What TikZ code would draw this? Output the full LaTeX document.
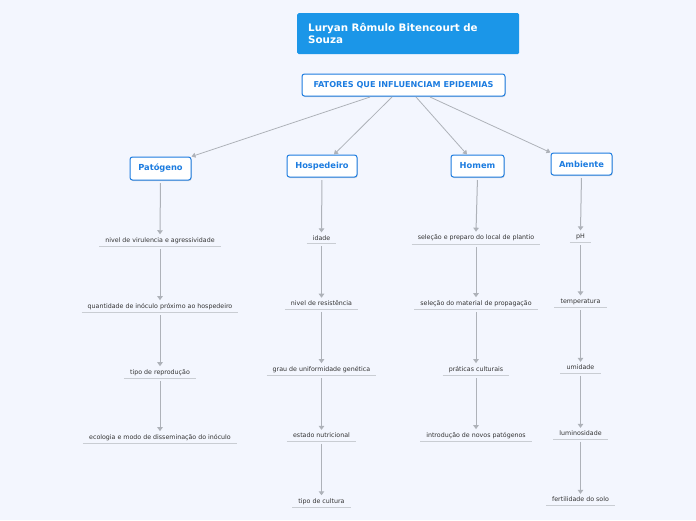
\documentclass[tikz,border=0pt]{standalone}
\usepackage{fontspec}
\setmainfont{DejaVu Sans}
\usetikzlibrary{arrows.meta,shadows}
\definecolor{bg}{HTML}{F3F6FE}
\definecolor{titleblue}{HTML}{1B96E8}
\definecolor{topicblue}{HTML}{1C7CE0}
\definecolor{linegray}{HTML}{AEB2B9}
\definecolor{ulgray}{HTML}{C9CDD3}
\definecolor{leaftext}{HTML}{333333}
\tikzset{
  titlebox/.style={fill=titleblue, rounded corners=1.5pt, text=white, font=\fontsize{10.3}{12.5}\selectfont\bfseries, align=left, anchor=north west, minimum width=222pt, minimum height=41pt, inner xsep=11pt, text width=200pt},
  topicbox/.style={draw=topicblue, line width=1pt, fill=white, rounded corners=2.5pt, text=topicblue, inner sep=0pt, drop shadow={shadow xshift=0.6pt, shadow yshift=-1pt, opacity=0.25, fill=black!60}},
  maintopic/.style={topicbox, font=\fontsize{8.1}{9}\selectfont\bfseries},
  subtopic/.style={topicbox, font=\fontsize{8.3}{9}\selectfont\bfseries},
  leafbox/.style={text=leaftext, font=\fontsize{6.3}{7}\selectfont, inner xsep=6pt, inner ysep=3pt,
    append after command={\pgfextra{\draw[ulgray, line width=1.2pt] (\tikzlastnode.south west) -- (\tikzlastnode.south east);}}},
  conn/.style={linegray, line width=0.8pt, -{Triangle[width=5pt,length=4pt]}},
  vconn/.style={linegray, line width=1pt, -{Triangle[width=5.5pt,length=4pt]}, shorten <=2.5pt}
}
\begin{document}
\begin{tikzpicture}[x=1pt,y=-1pt]
\fill[bg] (0,0) rectangle (696,520);
\useasboundingbox (0,0) rectangle (696,520);

\node[titlebox] (title) at (297,13) {Luryan Rômulo Bitencourt de\\Souza};

\node[maintopic, minimum width=203pt, minimum height=22pt] (main) at (403.5,85) {FATORES QUE INFLUENCIAM EPIDEMIAS};

\node[subtopic, minimum width=61pt, minimum height=23pt] (pat) at (160.5,168.5) {Patógeno};
\node[subtopic, minimum width=70pt, minimum height=22pt] (hos) at (322,166) {Hospedeiro};
\node[subtopic, minimum width=53pt, minimum height=22pt] (hom) at (477.5,166) {Homem};
\node[subtopic, minimum width=61pt, minimum height=22pt] (amb) at (581.5,164) {Ambiente};

\coordinate (m1) at (370,97);
\coordinate (m2) at (392,97);
\coordinate (m3) at (416,97);
\coordinate (m4) at (430,97);
\draw[conn] (m1) -- (pat.north east);
\draw[conn] (m2) -- (hos.north -| 334,0);
\draw[conn] (m3) -- (hom.north -| 467,0);
\draw[conn] (m4) -- (amb.north west);

% Patogeno column
\node[leafbox] (p1) at (160,240.5) {nivel de virulencia e agressividade};
\node[leafbox] (p2) at (160,306.5) {quantidade de inóculo próximo ao hospedeiro};
\node[leafbox] (p3) at (160,372.5) {tipo de reprodução};
\node[leafbox] (p4) at (160,437.5) {ecologia e modo de disseminação do inóculo};
\draw[vconn] (pat.south) -- (p1.north);
\draw[vconn] (p1.south) -- (p2.north);
\draw[vconn] (p2.south) -- (p3.north);
\draw[vconn] (p3.south) -- (p4.north);

% Hospedeiro column
\node[leafbox] (h1) at (321.5,238) {idade};
\node[leafbox] (h2) at (321.5,303.5) {nivel de resistência};
\node[leafbox] (h3) at (321.5,369.5) {grau de uniformidade genética};
\node[leafbox] (h4) at (321.5,435.5) {estado nutricional};
\node[leafbox] (h5) at (321.5,501.5) {tipo de cultura};
\draw[vconn] (hos.south) -- (h1.north);
\draw[vconn] (h1.south) -- (h2.north);
\draw[vconn] (h2.south) -- (h3.north);
\draw[vconn] (h3.south) -- (h4.north);
\draw[vconn] (h4.south) -- (h5.north);

% Homem column
\node[leafbox] (o1) at (476,238) {seleção e preparo do local de plantio};
\node[leafbox] (o2) at (476,303.5) {seleção do material de propagação};
\node[leafbox] (o3) at (476,369.5) {práticas culturais};
\node[leafbox] (o4) at (476,435.5) {introdução de novos patógenos};
\draw[vconn] (hom.south) -- (o1.north);
\draw[vconn] (o1.south) -- (o2.north);
\draw[vconn] (o2.south) -- (o3.north);
\draw[vconn] (o3.south) -- (o4.north);

% Ambiente column
\node[leafbox] (a1) at (580.5,236.5) {pH};
\node[leafbox] (a2) at (580.5,301.5) {temperatura};
\node[leafbox] (a3) at (580.5,367.5) {umidade};
\node[leafbox] (a4) at (580.5,433.5) {luminosidade};
\node[leafbox] (a5) at (580.5,499.5) {fertilidade do solo};
\draw[vconn] (amb.south) -- (a1.north);
\draw[vconn] (a1.south) -- (a2.north);
\draw[vconn] (a2.south) -- (a3.north);
\draw[vconn] (a3.south) -- (a4.north);
\draw[vconn] (a4.south) -- (a5.north);
\end{tikzpicture}
\end{document}
